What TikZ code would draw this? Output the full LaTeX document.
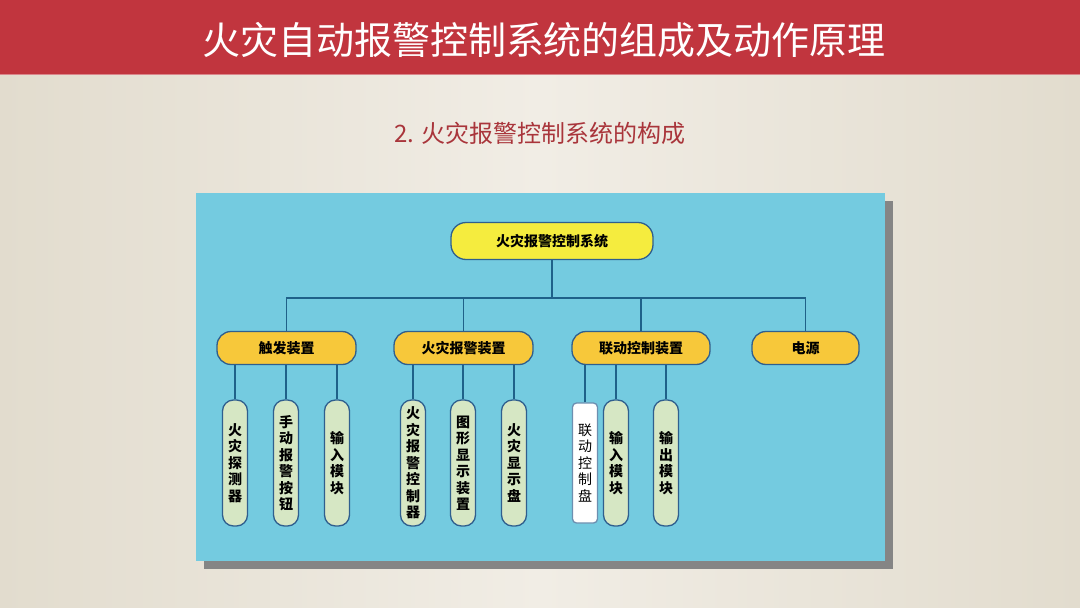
\documentclass[tikz,border=0pt]{standalone}
\usepackage{fontspec}
\setmainfont{Noto Sans CJK SC}
\definecolor{bannerred}{HTML}{C1353E}
\definecolor{subred}{HTML}{A9353B}
\definecolor{bgmid}{HTML}{F1EDE5}
\definecolor{bgedge}{HTML}{E2DCCE}
\definecolor{panel}{HTML}{74CBE0}
\definecolor{shadowgray}{HTML}{858585}
\definecolor{rootyellow}{HTML}{F5EC3E}
\definecolor{branchorange}{HTML}{F7C83A}
\definecolor{leafgreen}{HTML}{D6E7C4}
\definecolor{edgeblue}{HTML}{2F5F8E}
\definecolor{wireblue}{HTML}{1F6189}

\begin{document}
\begin{tikzpicture}[x=1pt, y=-1pt,
  wire/.style={line width=1.4pt, draw=wireblue},
  root/.style={draw=edgeblue, line width=1.3pt, fill=rootyellow, rounded corners=15pt, minimum width=202pt, minimum height=37pt, inner sep=0pt, font=\fontsize{14}{16}\selectfont\bfseries},
  branch/.style={draw=edgeblue, line width=1.3pt, fill=branchorange, rounded corners=14pt, minimum width=139pt, minimum height=33pt, inner sep=0pt, font=\fontsize{14}{16}\selectfont\bfseries},
  leaf/.style={draw=edgeblue, line width=1.3pt, fill=leafgreen, rounded corners=11pt, minimum width=25pt, minimum height=126pt, inner sep=0pt, align=center, font=\fontsize{14}{16.5}\selectfont\bfseries},
  plainleaf/.style={leaf, fill=white, draw=edgeblue!70, rounded corners=4pt, minimum height=120pt, font=\fontsize{14}{16.5}\selectfont}]
  \useasboundingbox (0,0) rectangle (1080,608);
  % page
  \shade[left color=bgedge, right color=bgedge, middle color=bgmid] (0,0) rectangle (1080,608);
  \fill[bannerred] (0,0) rectangle (1080,74);
  \draw[bannerred!60!white, line width=1pt] (0,74) -- (1080,74);
  \node[text=white, font=\fontsize{38}{42}\selectfont] (title) at (544,40) {火灾自动报警控制系统的组成及动作原理};
  \node[text=subred, font=\fontsize{24}{28}\selectfont] (sub) at (540,133) {2. 火灾报警控制系统的构成};
  % panel
  \fill[shadowgray] (204,201) rectangle (893,569);
  \fill[panel] (196,193) rectangle (885,561);

  \node[root] (sys) at (552,241) {火灾报警控制系统};
  \node[branch] (trig) at (286.5,348) {触发装置};
  \node[branch] (alarm) at (463.5,348) {火灾报警装置};
  \node[branch, minimum width=138pt] (ctrl) at (641,348) {联动控制装置};
  \node[branch, minimum width=107pt] (power) at (805.5,348) {电源};

  \coordinate (bus) at (552,298);
  \draw[wire] (sys.south) -- (bus);
  \foreach \b in {trig,alarm,ctrl,power}
    \draw[wire] (\b.north) |- (bus);

  % leaves
  \node[leaf] (t1) at (235,463) {火\\灾\\探\\测\\器};
  \node[leaf] (t2) at (286,463) {手\\动\\报\\警\\按\\钮};
  \node[leaf] (t3) at (337,463) {输\\入\\模\\块};
  \node[leaf] (a1) at (413,463) {火\\灾\\报\\警\\控\\制\\器};
  \node[leaf] (a2) at (463,463) {图\\形\\显\\示\\装\\置};
  \node[leaf] (a3) at (514,463) {火\\灾\\显\\示\\盘};
  \node[plainleaf] (c1) at (585,463) {联\\动\\控\\制\\盘};
  \node[leaf] (c2) at (616,463) {输\\入\\模\\块};
  \node[leaf] (c3) at (666,463) {输\\出\\模\\块};

  \foreach \l in {t1,t2,t3}
    \draw[wire] (\l.north) -- (\l.north |- trig.south);
  \foreach \l in {a1,a2,a3}
    \draw[wire] (\l.north) -- (\l.north |- alarm.south);
  \foreach \l in {c1,c2,c3}
    \draw[wire] (\l.north) -- (\l.north |- ctrl.south);
\end{tikzpicture}
\end{document}
